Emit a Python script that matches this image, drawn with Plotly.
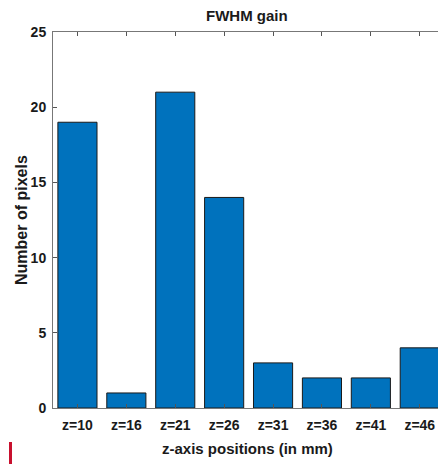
import plotly.graph_objects as go

categories = ["z=10", "z=16", "z=21", "z=26", "z=31", "z=36", "z=41", "z=46"]
pixel_counts = [19, 1, 21, 14, 3, 2, 2, 4]
y_ticks = [0, 5, 10, 15, 20, 25]

FONT = "Liberation Sans, Arial, sans-serif"
TXT = "#1a1a1a"

fig = go.Figure()
fig.add_trace(go.Bar(
    x=list(range(len(categories))),
    y=pixel_counts,
    width=0.8,
    marker=dict(color="#0072BD", line=dict(color="#1a1a1a", width=1)),
))

W, H = 438, 464
L, T, B = 53, 32, 56
PW = W - L
PH = H - T - B
# plot area is cropped on the right: full axes would span [-0.5, 7.5]
step = 48.9
x_right = -0.5 + PW / step

fig.update_layout(
    width=W, height=H,
    margin=dict(l=L, r=0, t=T, b=B, pad=0, autoexpand=False),
    paper_bgcolor="white", plot_bgcolor="white",
    showlegend=False,
    font=dict(family=FONT, color=TXT, size=14),
)
center_paper = (4.0 * step - 1.5) / PW  # centre of the full axes box, in paper units
fig.add_annotation(text="<b>FWHM gain</b>", xref="paper", yref="paper",
                   x=center_paper, y=1, yshift=6, yanchor="bottom", showarrow=False,
                   font=dict(size=15, family=FONT, color=TXT))
fig.add_annotation(text="<b>z-axis positions (in mm)</b>", xref="paper", yref="paper",
                   x=center_paper, y=0, yshift=-30, yanchor="top", showarrow=False,
                   font=dict(size=15, family=FONT, color=TXT))
fig.add_annotation(text="<b>Number of pixels</b>", xref="paper", yref="paper",
                   x=(21 - L) / PW, y=0.5, xanchor="center", yanchor="middle",
                   textangle=-90, showarrow=False,
                   font=dict(size=16, family=FONT, color=TXT))

fig.update_xaxes(
    range=[-0.5, x_right], automargin=False,
    tickmode="array", tickvals=list(range(len(categories))),
    ticktext=["<b>%s</b>" % c for c in categories],
    ticks="inside", ticklen=4, tickcolor="#555", tickwidth=1,
    showline=True, linecolor="#777", linewidth=1, mirror="ticks",
    showgrid=False, zeroline=False,
    ticklabelstandoff=4,
    tickfont=dict(size=14, family=FONT, color=TXT),
)
fig.update_yaxes(
    range=[0, 25], automargin=False,
    tickmode="array", tickvals=y_ticks,
    ticktext=["<b>%d</b>" % v for v in y_ticks],
    ticks="inside", ticklen=4, tickcolor="#555", tickwidth=1,
    showline=True, linecolor="#777", linewidth=1, mirror=True,
    showgrid=False, zeroline=False,
    ticklabelstandoff=3,
    tickfont=dict(size=14, family=FONT, color=TXT),
)

# red mark in lower-left corner of the reference image
fig.add_shape(type="rect", xref="paper", yref="paper",
              x0=(9 - L) / PW, x1=(12 - L) / PW,
              y0=-(H - T - PH) / PH, y1=-(442 - (T + PH)) / PH,
              fillcolor="#C8102E", line=dict(width=0), layer="above")

fig.write_html("out.html", config={"displayModeBar": False},
               post_script="document.body.style.margin='0';document.body.style.overflow='hidden';")
